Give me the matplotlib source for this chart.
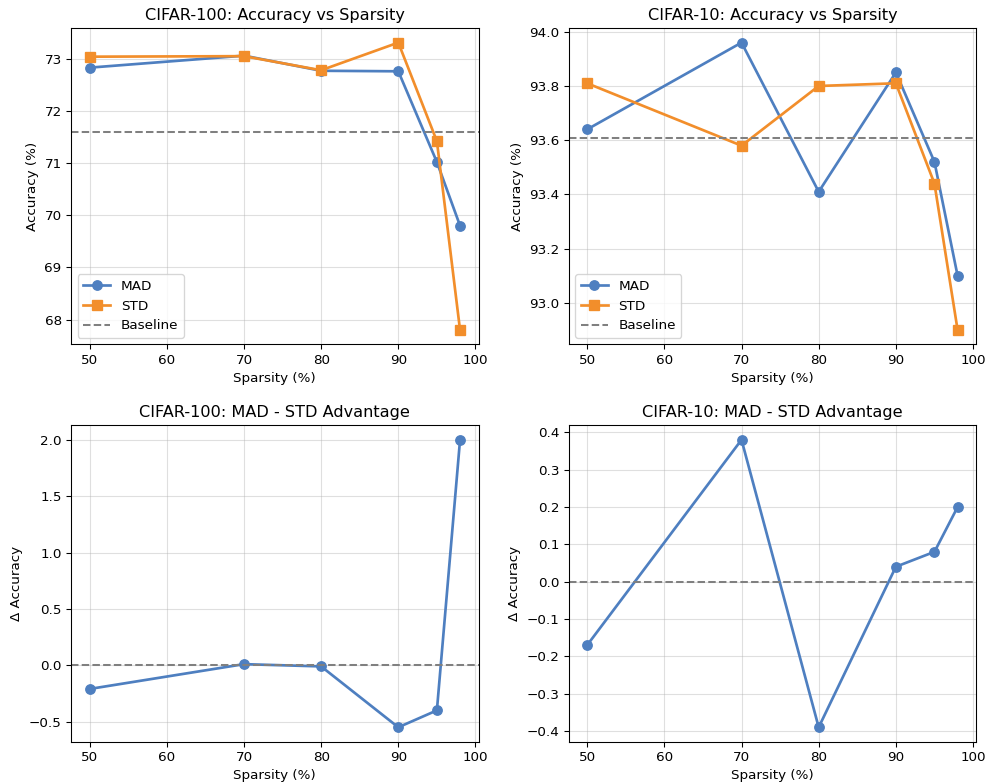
import numpy as np
import matplotlib.pyplot as plt

sparsity = [50, 70, 80, 90, 95, 98]

c100_mad = [72.83, 73.06, 72.77, 72.76, 71.02, 69.80]
c100_std = [73.04, 73.05, 72.78, 73.31, 71.42, 67.80]
c100_base = 71.6

c10_mad = [93.64, 93.96, 93.41, 93.85, 93.52, 93.10]
c10_std = [93.81, 93.58, 93.80, 93.81, 93.44, 92.90]
c10_base = 93.61

blue = '#4e7fc0'
orange = '#f28e2b'

dpi = 97
fig, axes = plt.subplots(2, 2, figsize=(987 / dpi, 784 / dpi), dpi=dpi)
fig.subplots_adjust(left=0.072, right=0.989, top=0.964, bottom=0.054,
                    wspace=0.221, hspace=0.256)


def acc_panel(ax, mad, std, base, title):
    ax.plot(sparsity, mad, '-o', color=blue, linewidth=2, markersize=7, label='MAD')
    ax.plot(sparsity, std, '-s', color=orange, linewidth=2, markersize=7, label='STD')
    ax.axhline(base, color='gray', linestyle='--', linewidth=1.5, label='Baseline')
    ax.set_title(title, fontsize=12)
    ax.set_xlabel('Sparsity (%)')
    ax.set_ylabel('Accuracy (%)')
    ax.legend(loc='lower left')
    ax.grid(True, alpha=0.4)


def diff_panel(ax, mad, std, title):
    diff = np.array(mad) - np.array(std)
    ax.plot(sparsity, diff, '-o', color=blue, linewidth=2, markersize=7)
    ax.axhline(0, color='gray', linestyle='--', linewidth=1.5)
    ax.set_title(title, fontsize=12)
    ax.set_xlabel('Sparsity (%)')
    ax.set_ylabel('Δ Accuracy')
    ax.grid(True, alpha=0.4)


acc_panel(axes[0, 0], c100_mad, c100_std, c100_base, 'CIFAR-100: Accuracy vs Sparsity')
acc_panel(axes[0, 1], c10_mad, c10_std, c10_base, 'CIFAR-10: Accuracy vs Sparsity')
diff_panel(axes[1, 0], c100_mad, c100_std, 'CIFAR-100: MAD - STD Advantage')
diff_panel(axes[1, 1], c10_mad, c10_std, 'CIFAR-10: MAD - STD Advantage')

plt.savefig('out.png', dpi=dpi)
